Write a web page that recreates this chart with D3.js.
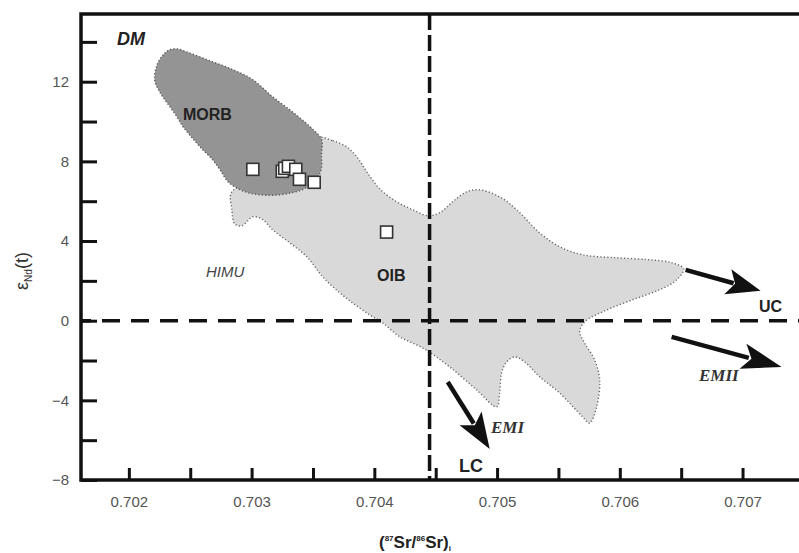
<!DOCTYPE html>
<html lang="en">
<head>
  <meta charset="UTF-8" />
  <title>Sr-Nd isotope plot</title>
  <script src="https://d3js.org/d3.v7.min.js"></script>
  <style>
    body { margin: 0; padding: 0; background: #fff; }
    svg { display: block; font-family: "Liberation Sans", Arial, sans-serif; }
  </style>
</head>
<body>
<div id="chart"></div>
<script>
  // samples: [87Sr/86Sr(i), eNd(t)]
  const samples = [
    [0.70301, 7.6], [0.70325, 7.5], [0.70327, 7.65], [0.70330, 7.75],
    [0.70336, 7.6], [0.70339, 7.1], [0.70351, 6.95], [0.70410, 4.45]
  ];

  // field outlines
  const morbField = [
    [0.70233,13.6],[0.70228,13.35],[0.70223,12.85],[0.70221,12.1],[0.70225,11.5],
    [0.70231,10.95],[0.70238,10.35],[0.70244,9.75],[0.70252,9.15],[0.70260,8.6],
    [0.70268,8.1],[0.70274,7.6],[0.70282,6.9],[0.70296,6.45],[0.70312,6.3],
    [0.70331,6.4],[0.70345,6.7],[0.70356,7.45],[0.70357,8.35],[0.70357,9.1],
    [0.70350,9.6],[0.70334,10.45],[0.70317,11.25],[0.70301,12.1],[0.70285,12.6],
    [0.70264,13.1],[0.70247,13.5],[0.70239,13.65]
  ];

  const oibField = [
    [0.703555,9.19],[0.703661,9.04],[0.703775,8.73],[0.703857,8.23],[0.703938,7.48],
    [0.704044,6.62],[0.704182,5.97],[0.704313,5.57],[0.704435,5.27],[0.704533,5.42],
    [0.704638,5.97],[0.704752,6.47],[0.704858,6.57],[0.705021,6.22],[0.70516,5.57],
    [0.705347,4.41],[0.70551,3.71],[0.705697,3.31],[0.705974,3.16],[0.706243,3.06],
    [0.70643,2.9],[0.70652,2.6],[0.706454,2.0],[0.706324,1.55],[0.706104,1.05],
    [0.705876,0.49],[0.705713,-0.06],[0.705673,-0.56],[0.705713,-1.12],[0.705795,-1.97],
    [0.705836,-2.97],[0.705811,-4.33],[0.705754,-5.14],[0.705697,-4.83],[0.70551,-3.63],
    [0.705347,-2.82],[0.705225,-2.07],[0.705143,-1.82],[0.705078,-2.07],[0.705037,-2.62],
    [0.705021,-3.63],[0.704997,-4.33],[0.704834,-3.48],[0.704614,-2.32],[0.704394,-1.37],
    [0.704207,-0.81],[0.704068,-0.11],[0.703963,0.29],[0.703824,0.89],[0.703718,1.4],
    [0.70358,2.2],[0.70345,3.21],[0.703311,3.91],[0.703173,4.56],[0.703091,5.07],
    [0.70301,5.22],[0.70292,4.76],[0.702863,4.86],[0.702839,5.57],[0.702839,6.47],
    [0.703067,6.97],[0.703433,7.58],[0.703515,8.68]
  ];

  // mixing arrows towards end-members
  const arrows = [
    { name: "UC",   from: [0.706536, 2.55],  to: [0.707147, 1.5],  head: 34 },
    { name: "EMII", from: [0.706422, -0.81], to: [0.707318, -2.32], head: 40 },
    { name: "EMI",  from: [0.704598, -3.08], to: [0.704940, -6.44], head: 36 }
  ];

  const xMajor = [0.702, 0.703, 0.704, 0.705, 0.706, 0.707];
  const xMinor = [0.7025, 0.7035, 0.7045, 0.7055, 0.7065];
  const yMajor = [-8, -4, 0, 4, 8, 12];
  const yMinor = [-6, -2, 2, 6, 10, 14];

  const bulkEarthSr = 0.70445;
  const bulkEarthNd = 0;

  const width = 799;
  const height = 553;
  const margin = { left: 81, top: 14, right: 0, bottom: 73 };

  const svg = d3.select("#chart")
    .append("svg")
    .attr("width", width)
    .attr("height", height);

  const x = d3.scaleLinear()
    .domain([0.70161, 0.70746])
    .range([margin.left, width - margin.right]);

  const y = d3.scaleLinear()
    .domain([-8, 15.4])
    .range([height - margin.bottom, margin.top]);

  const line = d3.line()
    .x(d => x(d[0]))
    .y(d => y(d[1]))
    .curve(d3.curveCatmullRomClosed.alpha(0.5));

  // fields
  svg.append("path")
    .attr("d", line(oibField))
    .attr("fill", "#d9d9d9")
    .attr("stroke", "#666")
    .attr("stroke-width", 1.4)
    .attr("stroke-dasharray", "1.2,2.2");

  svg.append("path")
    .attr("d", line(morbField))
    .attr("fill", "#949494")
    .attr("stroke", "#555")
    .attr("stroke-width", 1.4)
    .attr("stroke-dasharray", "1.2,2.2");

  // reference lines
  svg.append("line")
    .attr("x1", x.range()[0]).attr("x2", x.range()[1])
    .attr("y1", y(bulkEarthNd)).attr("y2", y(bulkEarthNd))
    .attr("stroke", "#111")
    .attr("stroke-width", 3.5)
    .attr("stroke-dasharray", "18,11")
    .attr("stroke-dashoffset", 8);

  svg.append("line")
    .attr("x1", x(bulkEarthSr)).attr("x2", x(bulkEarthSr))
    .attr("y1", y.range()[1]).attr("y2", y.range()[0])
    .attr("stroke", "#111")
    .attr("stroke-width", 3.5)
    .attr("stroke-dasharray", "16,5");

  // axes
  const yAxis = d3.axisLeft(y).tickValues(yMajor).tickSize(-16).tickPadding(12);
  const yAxisMinor = d3.axisLeft(y).tickValues(yMinor).tickSize(-16).tickFormat("");
  const xAxis = d3.axisBottom(x).tickValues(xMajor).tickSize(-12).tickPadding(16)
    .tickFormat(d3.format(".3f"));
  const xAxisMinor = d3.axisBottom(x).tickValues(xMinor).tickSize(-12).tickFormat("");

  [[yAxis, "left"], [yAxisMinor, "left"], [xAxis, "bottom"], [xAxisMinor, "bottom"]].forEach(([ax, side]) => {
    const g = svg.append("g")
      .attr("transform", side === "left" ? `translate(${margin.left},0)` : `translate(0,${y.range()[0]})`)
      .call(ax);
    g.select(".domain").remove();
    g.selectAll(".tick line").attr("stroke", "#111").attr("stroke-width", 3);
    g.selectAll(".tick text")
      .style("font-family", "'Liberation Sans', Arial, sans-serif")
      .style("font-size", "15px")
      .attr("fill", "#555");
  });

  // frame: left, bottom, top
  svg.append("path")
    .attr("d", `M${width},${margin.top}H${margin.left}V${y.range()[0]}H${width}`)
    .attr("fill", "none")
    .attr("stroke", "#111")
    .attr("stroke-width", 3.5);

  // samples
  const sq = 12;
  svg.selectAll("rect.sample")
    .data(samples)
    .enter()
    .append("rect")
    .attr("class", "sample")
    .attr("x", d => x(d[0]) - sq / 2)
    .attr("y", d => y(d[1]) - sq / 2)
    .attr("width", sq)
    .attr("height", sq)
    .attr("fill", "#fff")
    .attr("stroke", "#333")
    .attr("stroke-width", 1.6);

  // arrows
  arrows.forEach(a => {
    const x1 = x(a.from[0]), y1 = y(a.from[1]);
    const x2 = x(a.to[0]), y2 = y(a.to[1]);
    const ang = Math.atan2(y2 - y1, x2 - x1);
    const L = a.head, W = 13;
    const cos = Math.cos(ang), sin = Math.sin(ang);
    const bx = x2 - L * cos, by = y2 - L * sin;
    svg.append("line")
      .attr("x1", x1).attr("y1", y1).attr("x2", bx + 6 * cos).attr("y2", by + 6 * sin)
      .attr("stroke", "#111").attr("stroke-width", 4.5);
    const px = -sin * W, py = cos * W;
    svg.append("path")
      .attr("d", `M${x2},${y2}L${bx + px},${by + py}L${bx + L * 0.22 * cos},${by + L * 0.22 * sin}L${bx - px},${by - py}Z`)
      .attr("fill", "#111");
  });

  // labels
  const labels = [
    { t: "DM",   x: 117, y: 45,  size: 18, weight: "bold", style: "italic", fill: "#222" },
    { t: "MORB", x: 183, y: 120, size: 16, weight: "bold", style: "normal", fill: "#222" },
    { t: "HIMU", x: 206, y: 277, size: 15, weight: "normal", style: "italic", fill: "#444" },
    { t: "OIB",  x: 377, y: 281, size: 16, weight: "bold", style: "normal", fill: "#222" },
    { t: "UC",   x: 759, y: 312, size: 16, weight: "bold", style: "normal", fill: "#222" },
    { t: "LC",   x: 459, y: 472, size: 18, weight: "bold", style: "normal", fill: "#222" },
    { t: "EMII", x: 699, y: 381, size: 17, weight: "bold", style: "italic", fill: "#333", serif: true },
    { t: "EMI",  x: 491, y: 433, size: 17, weight: "bold", style: "italic", fill: "#333", serif: true }
  ];
  svg.selectAll("text.lbl")
    .data(labels)
    .enter()
    .append("text")
    .attr("class", "lbl")
    .attr("x", d => d.x)
    .attr("y", d => d.y)
    .style("font-size", d => d.size + "px")
    .style("font-weight", d => d.weight)
    .style("font-style", d => d.style)
    .style("font-family", d => d.serif ? "'Liberation Serif', 'Times New Roman', serif" : null)
    .attr("fill", d => d.fill)
    .text(d => d.t);

  // axis titles
  const xt = svg.append("text")
    .attr("x", 415).attr("y", 548)
    .attr("text-anchor", "middle")
    .style("font-size", "17px")
    .style("font-weight", "bold")
    .attr("fill", "#222");
  xt.append("tspan").text("(");
  xt.append("tspan").attr("dy", -7).style("font-size", "8px").text("87");
  xt.append("tspan").attr("dy", 7).text("Sr/");
  xt.append("tspan").attr("dy", -7).style("font-size", "8px").text("86");
  xt.append("tspan").attr("dy", 7).text("Sr)");
  xt.append("tspan").attr("dy", 3).style("font-size", "8px").text("i");

  const yt = svg.append("text")
    .attr("transform", "translate(28,271) rotate(-90)")
    .attr("text-anchor", "middle")
    .style("font-size", "18px")
    .attr("fill", "#333");
  yt.append("tspan").text("ε");
  yt.append("tspan").attr("dy", 4).style("font-size", "10px").text("Nd");
  yt.append("tspan").attr("dy", -4).text("(t)");
</script>
</body>
</html>
